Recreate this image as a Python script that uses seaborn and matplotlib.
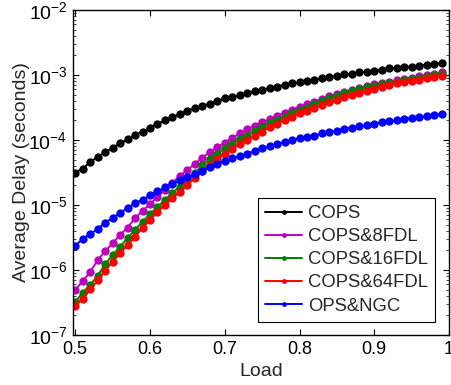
import numpy as np
import pandas as pd
import matplotlib
matplotlib.use("Agg")
import matplotlib.pyplot as plt
import seaborn as sns
from matplotlib.ticker import LogLocator, FixedLocator, FixedFormatter, NullFormatter
from matplotlib.lines import Line2D

load = [round(0.50 + 0.01 * i, 2) for i in range(50)]

cops = [3.16e-5, 3.63e-5, 4.57e-5, 5.50e-5, 6.46e-5, 7.59e-5, 8.91e-5, 1.02e-4, 1.20e-4, 1.35e-4,
        1.51e-4, 1.78e-4, 2.00e-4, 2.24e-4, 2.51e-4, 2.82e-4, 3.09e-4, 3.39e-4, 3.63e-4, 3.98e-4,
        4.37e-4, 4.57e-4, 4.90e-4, 5.25e-4, 5.62e-4, 5.89e-4, 6.31e-4, 6.61e-4, 7.08e-4, 7.41e-4,
        7.76e-4, 8.13e-4, 8.51e-4, 8.91e-4, 9.33e-4, 9.77e-4, 1.02e-3, 1.05e-3, 1.10e-3, 1.12e-3,
        1.17e-3, 1.20e-3, 1.26e-3, 1.29e-3, 1.32e-3, 1.35e-3, 1.38e-3, 1.45e-3, 1.48e-3, 1.51e-3]

cops_8fdl = [4.90e-7, 6.76e-7, 9.33e-7, 1.41e-6, 1.95e-6, 2.57e-6, 3.47e-6, 4.47e-6, 6.31e-6, 8.13e-6,
             1.02e-5, 1.35e-5, 1.70e-5, 2.19e-5, 2.82e-5, 3.47e-5, 4.27e-5, 5.37e-5, 6.46e-5, 7.76e-5,
             9.12e-5, 1.07e-4, 1.26e-4, 1.45e-4, 1.66e-4, 1.86e-4, 2.09e-4, 2.34e-4, 2.63e-4, 2.88e-4,
             3.24e-4, 3.55e-4, 3.89e-4, 4.27e-4, 4.68e-4, 5.13e-4, 5.50e-4, 5.89e-4, 6.31e-4, 6.76e-4,
             7.24e-4, 7.59e-4, 7.94e-4, 8.32e-4, 8.71e-4, 9.12e-4, 9.55e-4, 1.00e-3, 1.05e-3, 1.10e-3]

cops_16fdl = [3.24e-7, 4.47e-7, 5.89e-7, 8.13e-7, 1.23e-6, 1.70e-6, 2.29e-6, 3.09e-6, 4.17e-6, 5.50e-6,
              7.24e-6, 9.33e-6, 1.20e-5, 1.55e-5, 1.91e-5, 2.40e-5, 3.09e-5, 4.07e-5, 5.01e-5, 6.03e-5,
              7.41e-5, 8.71e-5, 1.02e-4, 1.17e-4, 1.38e-4, 1.58e-4, 1.82e-4, 2.04e-4, 2.29e-4, 2.57e-4,
              2.88e-4, 3.16e-4, 3.55e-4, 3.98e-4, 4.37e-4, 4.79e-4, 5.25e-4, 5.62e-4, 6.03e-4, 6.46e-4,
              6.76e-4, 7.24e-4, 7.59e-4, 7.94e-4, 8.32e-4, 8.71e-4, 9.12e-4, 9.55e-4, 1.00e-3, 1.05e-3]

cops_64fdl = [2.82e-7, 3.63e-7, 5.01e-7, 6.92e-7, 9.77e-7, 1.32e-6, 1.82e-6, 2.40e-6, 3.24e-6, 4.47e-6,
              5.89e-6, 7.76e-6, 1.00e-5, 1.26e-5, 1.58e-5, 2.04e-5, 2.57e-5, 3.39e-5, 4.17e-5, 5.01e-5,
              6.03e-5, 7.24e-5, 8.71e-5, 1.00e-4, 1.17e-4, 1.35e-4, 1.58e-4, 1.78e-4, 2.04e-4, 2.29e-4,
              2.57e-4, 2.82e-4, 3.16e-4, 3.47e-4, 3.80e-4, 4.17e-4, 4.57e-4, 4.90e-4, 5.37e-4, 5.75e-4,
              6.17e-4, 6.61e-4, 6.92e-4, 7.41e-4, 7.76e-4, 8.13e-4, 8.51e-4, 8.91e-4, 9.33e-4, 9.55e-4]

ops_ngc = [2.34e-6, 3.02e-6, 3.55e-6, 4.27e-6, 5.37e-6, 6.31e-6, 7.59e-6, 8.91e-6, 1.07e-5, 1.20e-5,
           1.41e-5, 1.62e-5, 1.86e-5, 2.09e-5, 2.40e-5, 2.69e-5, 3.02e-5, 3.39e-5, 3.80e-5, 4.27e-5,
           4.79e-5, 5.25e-5, 5.62e-5, 6.17e-5, 6.76e-5, 7.41e-5, 7.94e-5, 8.71e-5, 9.33e-5, 1.00e-4,
           1.07e-4, 1.12e-4, 1.17e-4, 1.26e-4, 1.32e-4, 1.38e-4, 1.48e-4, 1.55e-4, 1.62e-4, 1.70e-4,
           1.78e-4, 1.86e-4, 1.95e-4, 2.00e-4, 2.09e-4, 2.19e-4, 2.24e-4, 2.34e-4, 2.40e-4, 2.51e-4]

series_names = ["COPS", "COPS&8FDL", "COPS&16FDL", "COPS&64FDL", "OPS&NGC"]
series_values = [cops, cops_8fdl, cops_16fdl, cops_64fdl, ops_ngc]
colors = ["#000000", "#bf00bf", "#008000", "#ff0000", "#0000ff"]

x_ticks = [0.5, 0.6, 0.7, 0.8, 0.9, 1.0]
x_tick_labels = ["0.5", "0.6", "0.7", "0.8", "0.9", "1"]

sns.set_style("ticks")
plt.rcParams["font.family"] = ["Liberation Sans", "DejaVu Sans"]
plt.rcParams["mathtext.fontset"] = "custom"
plt.rcParams["mathtext.rm"] = "Liberation Sans"
plt.rcParams["mathtext.it"] = "Liberation Sans:italic"
plt.rcParams["mathtext.bf"] = "Liberation Sans:bold"

df = pd.concat([pd.DataFrame({"Load": load, "Delay": vals, "Scheme": name})
                for name, vals in zip(series_names, series_values)], ignore_index=True)

fig = plt.figure(figsize=(4.52, 3.85), dpi=100)
ax = fig.add_axes([0.1615, 0.13, 0.832, 0.844])

sns.lineplot(data=df, x="Load", y="Delay", hue="Scheme", hue_order=series_names,
             palette=colors, marker="o", markersize=6, markeredgewidth=0,
             linewidth=1.4, ax=ax, legend=False, sort=False)

ax.set_yscale("log")
ax.set_ylim(1e-7, 1e-2)
ax.set_xlim(0.497, 1.0)
ax.xaxis.set_major_locator(FixedLocator(x_ticks))
ax.xaxis.set_major_formatter(FixedFormatter(x_tick_labels))
ax.yaxis.set_major_locator(LogLocator(base=10, numticks=10))
ax.yaxis.set_minor_locator(LogLocator(base=10, subs=np.arange(2, 10), numticks=20))
ax.yaxis.set_minor_formatter(NullFormatter())

for sp in ax.spines.values():
    sp.set_visible(True)
    sp.set_linewidth(1.0)
    sp.set_color("black")

ax.tick_params(axis="both", which="major", direction="in", length=4, width=0.8,
               top=True, right=True, colors="black", pad=4)
ax.tick_params(axis="x", which="major", labelsize=13)
ax.tick_params(axis="y", which="major", labelsize=14)
ax.tick_params(axis="y", which="minor", direction="in", length=2, width=0.6, right=True, left=True)
ax.tick_params(axis="x", which="minor", bottom=False, top=False)

ax.set_xlabel("Load", fontsize=14, labelpad=4)
ax.set_ylabel("Average Delay (seconds)", fontsize=14, labelpad=-1)

handles = [Line2D([0], [0], color=c, marker="o", markersize=3.5, markeredgewidth=0, linewidth=1.4)
           for c in colors]
leg = ax.legend(handles, series_names, loc="lower right", bbox_to_anchor=(0.963, 0.04),
                fontsize=13.3, frameon=True, fancybox=False, framealpha=1, edgecolor="black",
                handlelength=2.0, handletextpad=0.3, labelspacing=0.33, borderpad=0.4,
                borderaxespad=0)
leg.get_frame().set_linewidth(0.8)

fig.savefig("out.png", dpi=100)
